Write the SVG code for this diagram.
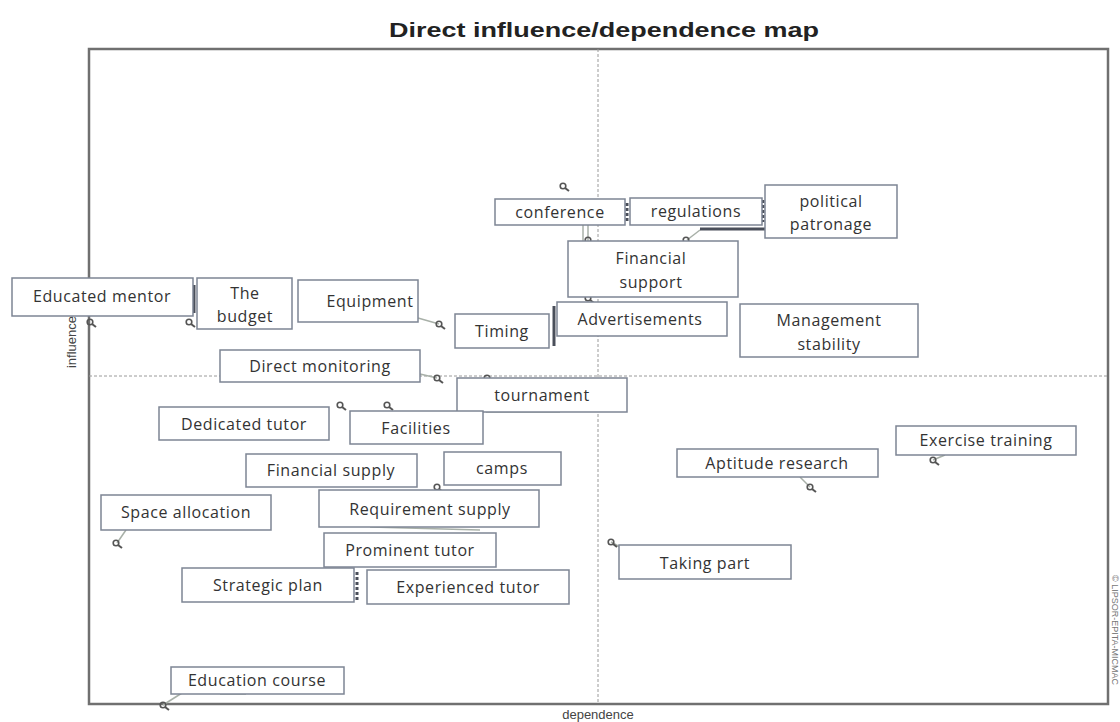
<svg xmlns="http://www.w3.org/2000/svg" width="1120" height="722" viewBox="0 0 1120 722">
<defs>
<style>
.box{fill:#fff;stroke:#7d8594;stroke-width:1.5}
.lbl{font-family:"Open Sans","Noto Sans",sans-serif;font-size:16px;fill:#333;text-anchor:middle;letter-spacing:0.6px}
.lead{stroke:#a8b0a8;stroke-width:1.5;fill:none}
.dark{stroke:#4a4f5a;stroke-width:3;fill:none}
.axis{font-family:"Liberation Sans",Arial,sans-serif;font-size:13px;fill:#444}
.pt circle{fill:none;stroke:#555;stroke-width:1.6}
</style>
<g id="pt" class="pt"><circle cx="0" cy="0" r="2.8"/><line x1="2" y1="2" x2="6" y2="5" stroke="#555" stroke-width="2"/></g>
</defs>
<rect width="1120" height="722" fill="#fff"/>
<text x="604" y="37" font-family="Liberation Sans,Arial,sans-serif" font-weight="bold" font-size="20" fill="#222" text-anchor="middle" textLength="430" lengthAdjust="spacingAndGlyphs">Direct influence/dependence map</text>
<g id="frame">
<rect x="89" y="49" width="1019" height="655" fill="none" stroke="#707070" stroke-width="2.5"/>
<line x1="598" y1="49" x2="598" y2="704" stroke="#9a9a9a" stroke-width="1" stroke-dasharray="3 2"/>
<line x1="89" y1="376" x2="1108" y2="376" stroke="#9a9a9a" stroke-width="1" stroke-dasharray="3 2"/>
<text class="axis" x="598" y="719" text-anchor="middle">dependence</text>
<text class="axis" transform="translate(76 342) rotate(-90)" text-anchor="middle">influence</text>
<text transform="translate(1112 630) rotate(90)" text-anchor="middle" font-family="Liberation Sans,Arial,sans-serif" font-size="9" fill="#777">© LIPSOR-EPITA-MICMAC</text>
</g>
<g id="connectors">
<line class="lead" x1="163" y1="705" x2="182" y2="693"/>
<line class="lead" x1="220" y1="694" x2="246" y2="694" stroke="#777"/>
<line class="lead" x1="117" y1="543" x2="126" y2="530"/>
<line class="lead" x1="933" y1="460" x2="945" y2="455"/>
<line class="lead" x1="810" y1="487" x2="800" y2="477"/>
<line class="lead" x1="611" y1="542" x2="622" y2="548"/>
<line class="lead" x1="420" y1="374" x2="437" y2="378"/>
<line class="lead" x1="418" y1="318" x2="439" y2="324"/>
<line class="lead" x1="700" y1="230" x2="687" y2="240"/>
<line class="lead" x1="583" y1="225" x2="583" y2="241"/>
<line class="lead" x1="588" y1="225" x2="588" y2="241"/>
<line class="lead" x1="486" y1="412" x2="560" y2="412" stroke="#888"/>
<line class="lead" x1="370" y1="527" x2="480" y2="530" stroke="#999"/>
<line class="dark" x1="700" y1="229" x2="765" y2="229"/>
<line class="dark" x1="194" y1="285" x2="194" y2="313"/>
<line class="dark" x1="627" y1="203" x2="627" y2="221" stroke-width="2.5" stroke-dasharray="3 2"/>
<line class="dark" x1="763" y1="200" x2="763" y2="222" stroke-width="2.5" stroke-dasharray="3 2"/>
<line class="dark" x1="554" y1="306" x2="554" y2="346" stroke-width="2"/>
<line class="dark" x1="357" y1="572" x2="357" y2="600" stroke="#999" stroke-width="2.5" stroke-dasharray="3 2"/>
</g>
<g id="points">
<use href="#pt" x="563" y="186"/>
<use href="#pt" x="90" y="322"/>
<use href="#pt" x="189" y="322"/>
<use href="#pt" x="439" y="324"/>
<use href="#pt" x="437" y="378"/>
<use href="#pt" x="487" y="378"/>
<use href="#pt" x="340" y="405"/>
<use href="#pt" x="387" y="405"/>
<use href="#pt" x="437" y="487"/>
<use href="#pt" x="116" y="543"/>
<use href="#pt" x="611" y="542"/>
<use href="#pt" x="810" y="487"/>
<use href="#pt" x="933" y="460"/>
<use href="#pt" x="163" y="705"/>
<use href="#pt" x="686" y="240"/>
<use href="#pt" x="588" y="240"/>
<use href="#pt" x="588" y="298"/>
</g>
<g id="n-conference"><rect class="box" x="495" y="199" width="130" height="26"/><text class="lbl" x="560" y="218">conference</text></g>
<g id="n-regulations"><rect class="box" x="630" y="198" width="132" height="27"/><text class="lbl" x="696" y="217">regulations</text></g>
<g id="n-political"><rect class="box" x="765" y="185" width="132" height="53"/><text class="lbl" x="831" y="207">political</text><text class="lbl" x="831" y="230">patronage</text></g>
<g id="n-finsupport"><rect class="box" x="568" y="241" width="170" height="56"/><text class="lbl" x="651" y="264">Financial</text><text class="lbl" x="651" y="288">support</text></g>
<g id="n-educated"><rect class="box" x="12" y="278" width="181" height="38"/><text class="lbl" x="102" y="302">Educated mentor</text></g>
<g id="n-budget"><rect class="box" x="197" y="278" width="95" height="51"/><text class="lbl" x="245" y="299">The</text><text class="lbl" x="245" y="322">budget</text></g>
<g id="n-equipment"><rect class="box" x="298" y="280" width="120" height="42"/><text class="lbl" x="370" y="307">Equipment</text></g>
<g id="n-timing"><rect class="box" x="455" y="314" width="94" height="34"/><text class="lbl" x="502" y="337">Timing</text></g>
<g id="n-ads"><rect class="box" x="557" y="302" width="170" height="34"/><text class="lbl" x="640" y="325">Advertisements</text></g>
<g id="n-mgmt"><rect class="box" x="740" y="304" width="178" height="53"/><text class="lbl" x="829" y="326">Management</text><text class="lbl" x="829" y="350">stability</text></g>
<g id="n-direct"><rect class="box" x="220" y="350" width="200" height="32"/><text class="lbl" x="320" y="372">Direct monitoring</text></g>
<g id="n-tournament"><rect class="box" x="457" y="378" width="170" height="34"/><text class="lbl" x="542" y="401">tournament</text></g>
<g id="n-dedicated"><rect class="box" x="159" y="407" width="170" height="33"/><text class="lbl" x="244" y="430">Dedicated tutor</text></g>
<g id="n-facilities"><rect class="box" x="350" y="411" width="133" height="33"/><text class="lbl" x="416" y="434">Facilities</text></g>
<g id="n-finsupply"><rect class="box" x="246" y="454" width="171" height="33"/><text class="lbl" x="331" y="476">Financial supply</text></g>
<g id="n-camps"><rect class="box" x="444" y="452" width="117" height="33"/><text class="lbl" x="502" y="474">camps</text></g>
<g id="n-requirement"><rect class="box" x="319" y="490" width="220" height="37"/><text class="lbl" x="430" y="515">Requirement supply</text></g>
<g id="n-space"><rect class="box" x="101" y="495" width="170" height="35"/><text class="lbl" x="186" y="518">Space allocation</text></g>
<g id="n-prominent"><rect class="box" x="324" y="533" width="172" height="34"/><text class="lbl" x="410" y="556">Prominent tutor</text></g>
<g id="n-strategic"><rect class="box" x="182" y="568" width="172" height="34"/><text class="lbl" x="268" y="591">Strategic plan</text></g>
<g id="n-experienced"><rect class="box" x="367" y="570" width="202" height="34"/><text class="lbl" x="468" y="593">Experienced tutor</text></g>
<g id="n-education"><rect class="box" x="171" y="667" width="173" height="27"/><text class="lbl" x="257" y="686">Education course</text></g>
<g id="n-aptitude"><rect class="box" x="677" y="449" width="201" height="28"/><text class="lbl" x="777" y="469">Aptitude research</text></g>
<g id="n-exercise"><rect class="box" x="896" y="426" width="180" height="29"/><text class="lbl" x="986" y="446">Exercise training</text></g>
<g id="n-taking"><rect class="box" x="619" y="545" width="172" height="34"/><text class="lbl" x="705" y="569">Taking part</text></g>
</svg>
